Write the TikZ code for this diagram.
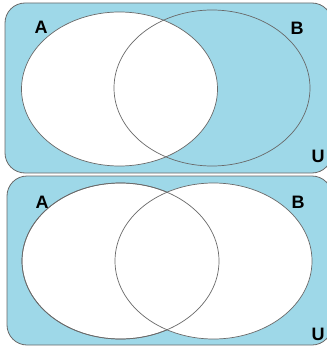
\documentclass[tikz,border=0pt]{standalone}
\usepackage{fontspec}
\setmainfont{Liberation Sans}
\definecolor{venblue}{RGB}{158,216,232}
\definecolor{edgegray}{RGB}{105,105,105}
\usetikzlibrary{positioning}

\begin{document}
\begin{tikzpicture}[
  x=1pt, y=-1pt,
  universe/.style={draw=edgegray, fill=venblue, rounded corners=20pt, line width=0.8pt},
  setA/.style={draw=edgegray, line width=0.7pt},
  lbl/.style={font=\fontsize{18}{18}\selectfont\bfseries, text=black, inner sep=0pt},
]
\useasboundingbox (0,0) rectangle (326,350);

% ---- top diagram: A white, B outline only ----
\draw[universe] (5,3) rectangle (332,173);
\draw[setA, fill=white] (119.5,89) ellipse [x radius=98pt, y radius=77pt];
\draw[setA] (212,88) ellipse [x radius=98pt, y radius=78pt];
\node[lbl] (topA) at (41,27) {A};
\node[lbl] (topB) at (297,28) {B};
\node[lbl] (topU) at (318,156) {U};

% ---- bottom diagram: A and B both white ----
\draw[universe] (7,176) rectangle (332,345);
\draw[setA, fill=white] (120.5,261) ellipse [x radius=98.5pt, y radius=78pt];
\draw[setA, fill=white] (213.5,261) ellipse [x radius=98.5pt, y radius=78pt];
\draw[setA] (120.5,261) ellipse [x radius=98.5pt, y radius=78pt];
\node[lbl] (botA) at (42,202) {A};
\node[lbl] (botB) at (298,202) {B};
\node[lbl] (botU) at (318,334) {U};

\end{tikzpicture}
\end{document}
